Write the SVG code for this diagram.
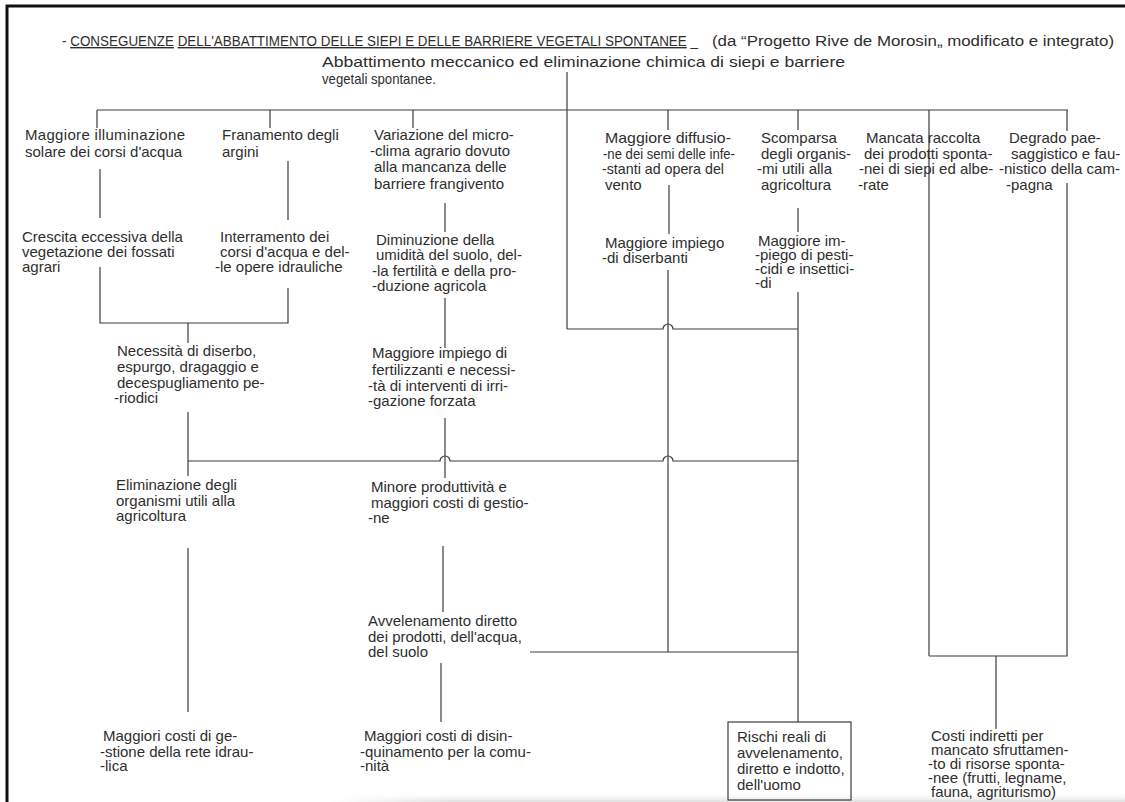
<svg xmlns="http://www.w3.org/2000/svg" width="1125" height="802" viewBox="0 0 1125 802">
<defs>
<style>
.t{font-family:"Liberation Sans",Arial,sans-serif;font-size:15px;fill:#2e2e2e}
.ti{font-family:"Liberation Sans",Arial,sans-serif;font-size:14px;fill:#2e2e2e}
.ul{text-decoration:underline}
.c{fill:none;stroke:#3c3c3c;stroke-width:1.2}
.frame{fill:none;stroke:#111;stroke-width:3}
.box{fill:none;stroke:#3c3c3c;stroke-width:1.2}
</style>
<linearGradient id="shade" x1="0" y1="0" x2="0" y2="1">
<stop offset="0" stop-color="#ffffff" stop-opacity="0"/>
<stop offset="1" stop-color="#dedede"/>
</linearGradient>
<linearGradient id="shadeH" x1="0" y1="0" x2="1" y2="0">
<stop offset="0" stop-color="#ffffff" stop-opacity="0"/>
<stop offset="0.15" stop-color="#ffffff" stop-opacity="1"/>
<stop offset="1" stop-color="#ffffff" stop-opacity="1"/>
</linearGradient>
<mask id="fadeL"><rect x="330" y="790" width="795" height="12" fill="url(#shadeH)"/></mask>
</defs>
<rect width="1125" height="802" fill="#ffffff"/>
<rect x="330" y="792" width="795" height="10" fill="url(#shade)" mask="url(#fadeL)"/>
<path class="frame" d="M7 802 V6 H1125"/>

<g id="title">
<text class="ti" font-size="12.8" x="62" y="46" textLength="636" lengthAdjust="spacingAndGlyphs">- <tspan class="ul">CONSEGUENZE</tspan>  <tspan class="ul">DELL'ABBATTIMENTO DELLE SIEPI E DELLE BARRIERE VEGETALI SPONTANEE</tspan> _</text>
<text class="ti" x="712" y="46" textLength="402" lengthAdjust="spacingAndGlyphs">(da “Progetto Rive de Morosin„ modificato e integrato)</text>
</g>

<g id="root">
<text class="t" font-size="16.5"><tspan x="322" y="67" textLength="523" lengthAdjust="spacingAndGlyphs">Abbattimento meccanico ed eliminazione chimica di siepi e barriere</tspan></text>
<text class="t" font-size="15"><tspan x="322" y="84" textLength="114" lengthAdjust="spacingAndGlyphs">vegetali spontanee.</tspan></text>
</g>

<g id="connectors">
<path class="c" d="M97 110 H1068"/>
<path class="c" d="M97 110 V128 M270 110 V128 M413 110 V128 M668 110 V130 M798 110 V130 M929 110 V656 M1067 110 V131"/>
<path class="c" d="M567 72 V329"/>
<path class="c" d="M100 169 V218 M288 161 V220 M445 203 V232 M669 185 V234 M798 208 V232"/>
<path class="c" d="M100 267 V323 H288 V288 M188 323 V343"/>
<path class="c" d="M445 298 V348"/>
<path class="c" d="M668 270 V652"/>
<path class="c" d="M798 292 V722"/>
<path class="c" d="M567 329 H663 A5 5 0 0 1 673 329 H798"/>
<path class="c" d="M188 412 V476"/>
<path class="c" d="M188 461 H440 A5 5 0 0 1 450 461 H663 A5 5 0 0 1 673 461 H798"/>
<path class="c" d="M445 418 V478"/>
<path class="c" d="M443 546 V612"/>
<path class="c" d="M441 663 V722"/>
<path class="c" d="M530 652 H798"/>
<path class="c" d="M188 548 V712"/>
<path class="c" d="M929 656 H1067 V183"/>
<path class="c" d="M996 656 V729"/>
</g>

<g id="n-illuminazione">
<text class="t"><tspan x="25" y="140" textLength="160">Maggiore illuminazione</tspan><tspan x="25" y="157">solare dei corsi d'acqua</tspan></text>
</g>
<g id="n-franamento">
<text class="t"><tspan x="222" y="140">Franamento degli</tspan><tspan x="222" y="157">argini</tspan></text>
</g>
<g id="n-variazione">
<text class="t"><tspan x="374" y="140">Variazione del micro-</tspan><tspan x="370" y="156">-clima agrario dovuto</tspan><tspan x="374" y="172">alla mancanza delle</tspan><tspan x="374" y="189">barriere frangivento</tspan></text>
</g>
<g id="n-diffusione">
<text class="t"><tspan x="605" y="143" textLength="126" lengthAdjust="spacingAndGlyphs">Maggiore diffusio-</tspan><tspan x="603" y="159" textLength="132" lengthAdjust="spacingAndGlyphs">-ne dei semi delle infe-</tspan><tspan x="602" y="174" textLength="122" lengthAdjust="spacingAndGlyphs">-stanti ad opera del</tspan><tspan x="605" y="190">vento</tspan></text>
</g>
<g id="n-scomparsa">
<text class="t"><tspan x="761" y="143">Scomparsa</tspan><tspan x="761" y="159">degli organis-</tspan><tspan x="757" y="174">-mi utili alla</tspan><tspan x="761" y="190">agricoltura</tspan></text>
</g>
<g id="n-mancata">
<text class="t"><tspan x="866" y="143">Mancata raccolta</tspan><tspan x="864" y="159">dei prodotti sponta-</tspan><tspan x="859" y="174">-nei di siepi ed albe-</tspan><tspan x="858" y="190">-rate</tspan></text>
</g>
<g id="n-degrado">
<text class="t"><tspan x="1009" y="143">Degrado pae-</tspan><tspan x="1011" y="159">saggistico e fau-</tspan><tspan x="999" y="174">-nistico della cam-</tspan><tspan x="1006" y="190">-pagna</tspan></text>
</g>

<g id="n-crescita">
<text class="t"><tspan x="22" y="242">Crescita eccessiva della</tspan><tspan x="22" y="257">vegetazione dei fossati</tspan><tspan x="22" y="272">agrari</tspan></text>
</g>
<g id="n-interramento">
<text class="t"><tspan x="220" y="242">Interramento dei</tspan><tspan x="220" y="257">corsi d'acqua e del-</tspan><tspan x="215" y="272">-le opere idrauliche</tspan></text>
</g>
<g id="n-diminuzione">
<text class="t"><tspan x="376" y="245">Diminuzione della</tspan><tspan x="376" y="260">umidità del suolo, del-</tspan><tspan x="372" y="276">-la fertilità e della pro-</tspan><tspan x="372" y="291">-duzione agricola</tspan></text>
</g>
<g id="n-diserbanti">
<text class="t"><tspan x="605" y="248">Maggiore impiego</tspan><tspan x="602" y="263">-di diserbanti</tspan></text>
</g>
<g id="n-pesticidi">
<text class="t"><tspan x="758" y="246">Maggiore im-</tspan><tspan x="755" y="260">-piego di pesti-</tspan><tspan x="755" y="274">-cidi e insettici-</tspan><tspan x="755" y="288">-di</tspan></text>
</g>

<g id="n-necessita">
<text class="t"><tspan x="117" y="356">Necessità di diserbo,</tspan><tspan x="117" y="372">espurgo, dragaggio e</tspan><tspan x="117" y="388">decespugliamento pe-</tspan><tspan x="114" y="403">-riodici</tspan></text>
</g>
<g id="n-fertilizzanti">
<text class="t"><tspan x="372" y="358">Maggiore impiego di</tspan><tspan x="372" y="375">fertilizzanti e necessi-</tspan><tspan x="368" y="391">-tà di interventi di irri-</tspan><tspan x="368" y="406">-gazione forzata</tspan></text>
</g>

<g id="n-eliminazione">
<text class="t"><tspan x="116" y="490">Eliminazione degli</tspan><tspan x="116" y="506">organismi utili alla</tspan><tspan x="116" y="521">agricoltura</tspan></text>
</g>
<g id="n-minore">
<text class="t"><tspan x="371" y="492">Minore produttività e</tspan><tspan x="371" y="508">maggiori costi di gestio-</tspan><tspan x="368" y="523">-ne</tspan></text>
</g>

<g id="n-avvelenamento">
<text class="t"><tspan x="368" y="626">Avvelenamento diretto</tspan><tspan x="368" y="642">dei prodotti, dell'acqua,</tspan><tspan x="368" y="657">del suolo</tspan></text>
</g>

<g id="n-costi-gestione">
<text class="t"><tspan x="103" y="741">Maggiori costi di ge-</tspan><tspan x="100" y="757">-stione della rete idrau-</tspan><tspan x="100" y="771">-lica</tspan></text>
</g>
<g id="n-costi-disinquinamento">
<text class="t"><tspan x="364" y="741">Maggiori costi di disin-</tspan><tspan x="360" y="757">-quinamento per la comu-</tspan><tspan x="360" y="771">-nità</tspan></text>
</g>
<g id="n-rischi">
<rect class="box" x="728" y="722" width="123" height="78"/>
<text class="t"><tspan x="737" y="742">Rischi reali di</tspan><tspan x="737" y="758">avvelenamento,</tspan><tspan x="737" y="774">diretto e indotto,</tspan><tspan x="737" y="790">dell'uomo</tspan></text>
</g>
<g id="n-costi-indiretti">
<text class="t" font-size="12.3"><tspan x="931" y="741">Costi indiretti per</tspan><tspan x="931" y="755">mancato sfruttamen-</tspan><tspan x="928" y="769">-to di risorse sponta-</tspan><tspan x="928" y="783">-nee (frutti, legname,</tspan><tspan x="931" y="797">fauna, agriturismo)</tspan></text>
</g>
</svg>
